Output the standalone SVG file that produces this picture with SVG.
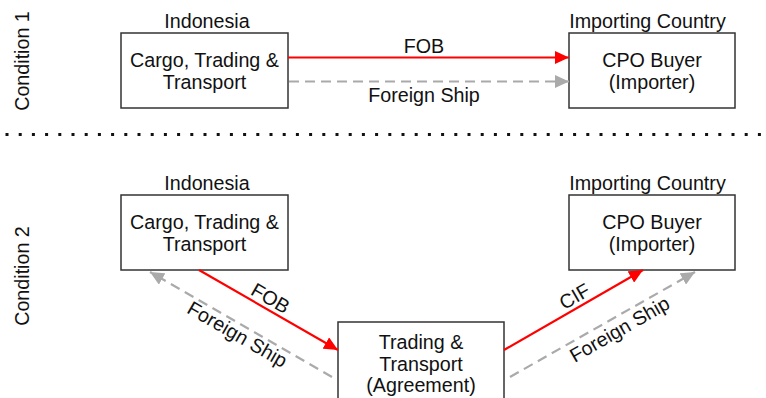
<svg xmlns="http://www.w3.org/2000/svg" width="766" height="398" viewBox="0 0 766 398">
  <style>
    text { font-family: "Liberation Sans", Arial, sans-serif; font-size: 19.7px; fill: #111; }
    .c { text-anchor: middle; }
    .box { fill: #fff; stroke: #333; stroke-width: 1.5; }
    .red { stroke: #ff0000; stroke-width: 2.2; fill: none; }
    .gray { stroke: #aaaaaa; stroke-width: 2.2; fill: none; stroke-dasharray: 10 6; }
    .sep { stroke: #111; stroke-width: 3; stroke-dasharray: 3 10.2; }
  </style>
  <defs>
    <marker id="ahRed" markerUnits="userSpaceOnUse" markerWidth="15" markerHeight="13" refX="14" refY="6.5" orient="auto">
      <path d="M0,0 L14,6.5 L0,13 z" fill="#ff0000"/>
    </marker>
    <marker id="ahGray" markerUnits="userSpaceOnUse" markerWidth="15" markerHeight="13" refX="14" refY="6.5" orient="auto">
      <path d="M0,0 L14,6.5 L0,13 z" fill="#aaaaaa"/>
    </marker>
  </defs>

  <rect width="766" height="398" fill="#fff"/>

  <!-- side captions -->
  <text class="c" transform="translate(29,61) rotate(-90)">Condition 1</text>
  <text class="c" transform="translate(29,276) rotate(-90)">Condition 2</text>

  <!-- dotted separator -->
  <line class="sep" x1="5.5" y1="134.5" x2="762" y2="134.5"/>

  <!-- condition 1 nodes -->
  <g id="c1-indonesia">
    <text class="c" x="207" y="28">Indonesia</text>
    <rect class="box" x="121" y="33" width="167" height="75"/>
    <text class="c" x="204.5" y="67">Cargo, Trading &amp;</text>
    <text class="c" x="204.5" y="89">Transport</text>
  </g>
  <g id="c1-importer">
    <text class="c" x="647.5" y="28">Importing Country</text>
    <rect class="box" x="569" y="33" width="166" height="75"/>
    <text class="c" x="652" y="67">CPO Buyer</text>
    <text class="c" x="652" y="89">(Importer)</text>
  </g>

  <!-- condition 2 nodes -->
  <g id="c2-indonesia">
    <text class="c" x="207" y="190">Indonesia</text>
    <rect class="box" x="121" y="195" width="167" height="75"/>
    <text class="c" x="204.5" y="229">Cargo, Trading &amp;</text>
    <text class="c" x="204.5" y="251">Transport</text>
  </g>
  <g id="c2-importer">
    <text class="c" x="647.5" y="190">Importing Country</text>
    <rect class="box" x="569" y="195" width="166" height="75"/>
    <text class="c" x="652" y="229">CPO Buyer</text>
    <text class="c" x="652" y="251">(Importer)</text>
  </g>
  <g id="c2-agreement">
    <rect class="box" x="338" y="322" width="166" height="90"/>
    <text class="c" x="421" y="349">Trading &amp;</text>
    <text class="c" x="421" y="371">Transport</text>
    <text class="c" x="421" y="392">(Agreement)</text>
  </g>

  <!-- connectors -->
  <g id="connectors">
    <line class="red" x1="288" y1="57.5" x2="569" y2="57.5" marker-end="url(#ahRed)"/>
    <line class="gray" x1="289" y1="81.5" x2="569" y2="81.5" marker-end="url(#ahGray)"/>
    <text class="c" x="424" y="53">FOB</text>
    <text class="c" x="424" y="102">Foreign Ship</text>

    <line class="red" x1="199" y1="270" x2="338" y2="350" marker-end="url(#ahRed)"/>
    <line class="gray" x1="332" y1="377" x2="150" y2="272" marker-end="url(#ahGray)"/>
    <line class="red" x1="504" y1="350" x2="643" y2="270" marker-end="url(#ahRed)"/>
    <line class="gray" x1="510" y1="377" x2="695" y2="272" marker-end="url(#ahGray)"/>

    <text class="c" transform="translate(270,299) rotate(30)" y="6">FOB</text>
    <text class="c" transform="translate(237,335) rotate(30)" y="6">Foreign Ship</text>
    <text class="c" transform="translate(575,297) rotate(-30)" y="6">CIF</text>
    <text class="c" transform="translate(620,330) rotate(-30)" y="6">Foreign Ship</text>
  </g>
</svg>
